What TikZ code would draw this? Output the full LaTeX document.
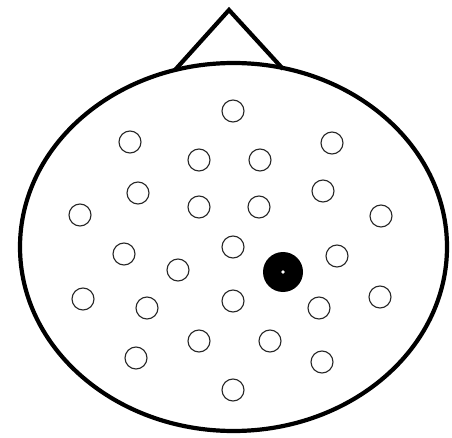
\documentclass[tikz,border=0pt]{standalone}
\usetikzlibrary{shapes.geometric}
\begin{document}
\begin{tikzpicture}[x=1pt,y=-1pt,
  elec/.style={circle,draw=black!85,line width=1.1pt,minimum size=22pt,inner sep=0pt},
  active/.style={circle,fill=black,minimum size=40pt,inner sep=0pt},
  headline/.style={line width=4.2pt,line join=miter}]
\useasboundingbox (0,0) rectangle (452,438);
\coordinate (apex) at (229,10);
\coordinate (nl) at (175,70);
\coordinate (nr) at (283,69);
\draw[headline] (nl) -- (apex) -- (nr);
\node[draw,ellipse,headline,minimum width=427pt,minimum height=368pt,inner sep=0pt] (head) at (233.5,247) {};
\foreach \n/\x/\y in {a/233/111, b/130/142, c/332/143, d/199/160, e/260/160,
  f/138/193, g/323/191, h/80/215, i/199/207, j/259/207, k/381/216,
  l/124/254, m/233/247, n/178/270, o/337/256,
  p/83/299, q/147/308, r/233/301, s/319/308, t/380/297,
  u/199/341, v/270/341, w/136/358, x/322/362, y/233/390}
  \node[elec] (\n) at (\x,\y) {};
\node[active] (act) at (283,272) {};
\fill[white] (act.center) circle (1.8pt);
\end{tikzpicture}
\end{document}
